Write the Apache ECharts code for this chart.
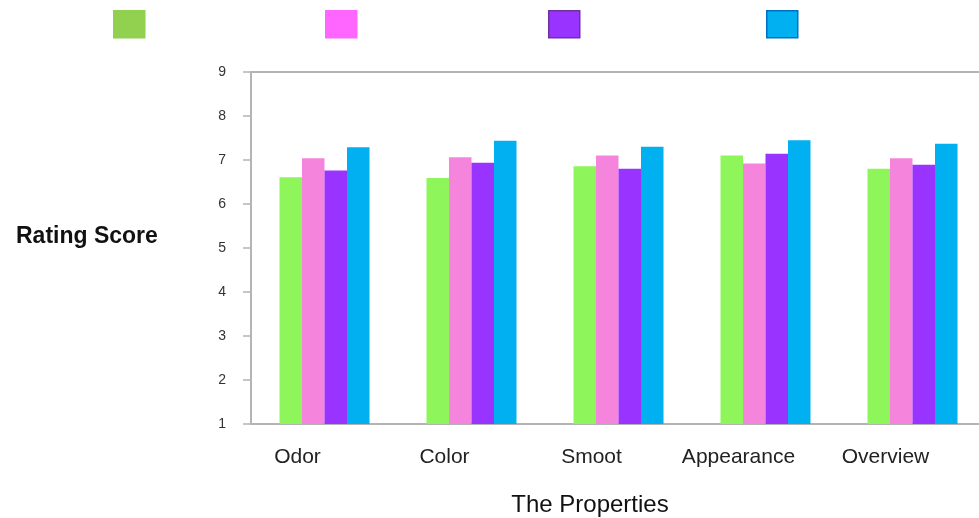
<!DOCTYPE html>
<html>
<head>
<meta charset="utf-8">
<script src="https://cdn.jsdelivr.net/npm/echarts@6/dist/echarts.min.js"></script>
<style>
  html, body { margin: 0; padding: 0; background: #fff; }
  #chart { width: 979px; height: 518px; }
</style>
</head>
<body>
<div id="chart"></div>
<script>
// categories and values
const categories = ['Odor', 'Color', 'Smoot', 'Appearance', 'Overview']
const seriesNames = ['S1', 'S2', 'S3', 'S4']
const s1 = [6.61, 6.59, 6.86, 7.10, 6.80]
const s2 = [7.04, 7.06, 7.10, 6.92, 7.04]
const s3 = [6.76, 6.94, 6.80, 7.14, 6.89]
const s4 = [7.29, 7.44, 7.30, 7.45, 7.37]
const yTicks = [1, 9, 1] // min, max, interval

const barColors = ['#8ef55a', '#f584dd', '#9933ff', '#00b0f0']
const legendColors = ['#92d050', '#ff66ff', '#9933ff', '#00b0f0']
const legendBorders = ['#92d050', '#ff66ff', '#7030a0', '#0070c0']
const legendLeft = [113, 325, 548, 766]

const chart = echarts.init(document.getElementById('chart'))
const font = 'Liberation Sans, Arial, sans-serif'

let option = {
  animation: false,
  textStyle: { fontFamily: font },
  title: [
    {
      text: 'Rating Score',
      left: 11, top: 220,
      textStyle: { fontSize: 23, fontWeight: 'bold', color: '#111', fontFamily: font }
    },
    {
      text: 'The Properties',
      left: 585, top: 488, textAlign: 'center',
      textStyle: { fontSize: 24, fontWeight: 'normal', color: '#111', fontFamily: font }
    }
  ],
  legend: seriesNames.map((n, i) => ({
    left: legendLeft[i],
    top: 10,
    padding: 0,
    itemWidth: 31,
    itemHeight: 27,
    selectedMode: false,
    formatter: () => '',
    data: [{
      name: n,
      icon: 'rect',
      itemStyle: { color: legendColors[i], borderColor: legendBorders[i], borderWidth: 1.5 }
    }]
  })),
  grid: {
    left: 251, top: 72, right: -7, bottom: 94,
    outerBoundsMode: 'none',
    containLabel: false,
    show: true, borderColor: '#b4b4b4', borderWidth: 2
  },
  xAxis: {
    type: 'category',
    data: categories,
    axisLine: { lineStyle: { color: '#b4b4b4', width: 2 } },
    axisTick: { show: false },
    axisLabel: {
      interval: 0,
      hideOverlap: false,
      margin: 23,
      fontSize: 21,
      color: '#222',
      padding: [0, 54, 0, 0]
    }
  },
  yAxis: {
    type: 'value',
    min: yTicks[0], max: yTicks[1], interval: yTicks[2],
    splitLine: { show: false },
    axisLine: { show: true, lineStyle: { color: '#b4b4b4', width: 2 } },
    axisTick: { show: true, length: 8, lineStyle: { color: '#b4b4b4', width: 1.5 } },
    axisLabel: { margin: 25, fontSize: 14, color: '#333' }
  },
  series: [s1, s2, s3, s4].map((d, i) => ({
    name: seriesNames[i],
    type: 'bar',
    data: d,
    barWidth: 22.5,
    barGap: 0,
    itemStyle: { color: barColors[i] }
  }))
}
chart.setOption(option)
</script>
</body>
</html>
